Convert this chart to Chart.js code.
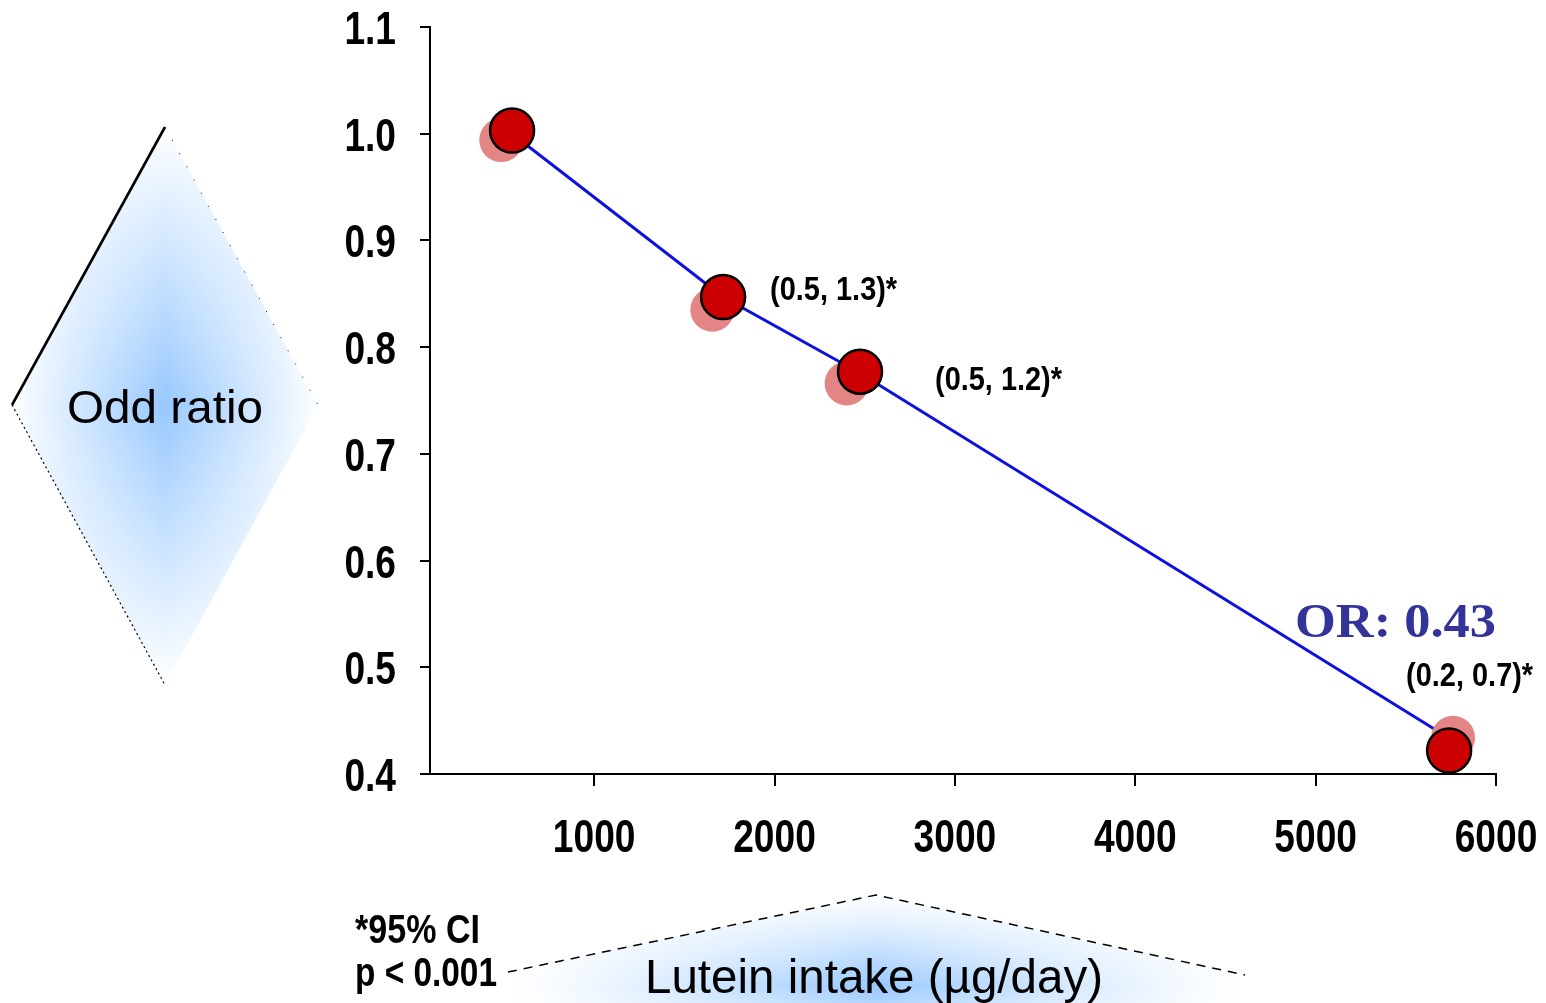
<!DOCTYPE html>
<html>
<head>
<meta charset="utf-8">
<script src="https://cdn.jsdelivr.net/npm/chart.js@4.4.0/dist/chart.umd.min.js"></script>
<style>
  html, body { margin: 0; padding: 0; background: #fff; }
  #wrap { width: 1546px; height: 1003px; }
</style>
</head>
<body>
<div id="wrap"><canvas id="chart" width="1546" height="1003"></canvas></div>
<script>
/* ── data ─────────────────────────────────────────── */
const xTicks   = [1000, 2000, 3000, 4000, 5000, 6000];
const yTicks   = [0.4, 0.5, 0.6, 0.7, 0.8, 0.9, 1.0, 1.1];
const lineX    = [545, 1715, 2470, 5745];          // lutein intake (µg/day)
const lineY    = [1.00, 0.847, 0.776, 0.433];      // odds ratio
const shadowX  = [485, 1655, 2400, 5762];
const shadowY  = [0.994, 0.835, 0.766, 0.434];
const pointX   = [545, 1715, 2474, 5740];
const pointY   = [1.003, 0.847, 0.777, 0.422];
const ciLabels = ['', '(0.5, 1.3)*', '(0.5, 1.2)*', '(0.2, 0.7)*'];

/* ── styles ───────────────────────────────────────── */
const SANS  = "'Liberation Sans', Arial, sans-serif";
const SERIF = "'Liberation Serif', 'Times New Roman', serif";
const RED   = '#cc0000';
const PINK  = '#e38585';
const BLUE  = '#1010e0';
const OR_COLOR = '#333399';
const NARROW = 0.79;   // condensed look of the bold labels

const toXY = (xs, ys) => xs.map((x, i) => ({ x, y: ys[i] }));

/* text squeezed horizontally (by factor, or to a target width) */
function drawText(ctx, txt, x, y, font, align, sx, width) {
  ctx.save();
  ctx.font = font;
  const w = ctx.measureText(txt).width;
  const k = width ? width / w : sx;
  let left = x;
  if (align === 'center') left = x - w * k / 2;
  else if (align === 'right') left = x - w * k;
  ctx.translate(left, y);
  ctx.scale(k, 1);
  ctx.textAlign = 'left';
  ctx.fillText(txt, 0, 0);
  ctx.restore();
}

/* star-shaped soft blue fill, clipped to a path */
function starFill(ctx, cx, cy, w, h, box, pathFn, pw) {
  const off = document.createElement('canvas');
  off.width = box.w; off.height = box.h;
  const octx = off.getContext('2d');
  const img = octx.createImageData(box.w, box.h);
  for (let j = 0; j < box.h; j++) {
    for (let i = 0; i < box.w; i++) {
      const dx = Math.abs(box.x + i - cx) / w;
      const dy = Math.abs(box.y + j - cy) / h;
      let t = Math.max(0, 1 - dx) * Math.max(0, 1 - dy);
      t = Math.pow(t, pw);
      const k = (j * box.w + i) * 4;
      img.data[k] = 152; img.data[k + 1] = 200; img.data[k + 2] = 255;
      img.data[k + 3] = Math.round(255 * t);
    }
  }
  octx.putImageData(img, 0, 0);
  ctx.save();
  ctx.beginPath();
  pathFn(ctx);
  ctx.clip();
  ctx.drawImage(off, box.x, box.y);
  ctx.restore();
}

/* ── decorations: axis-title shapes, notes, tick labels ── */
const decorPlugin = {
  id: 'decor',
  beforeDraw(chart) {
    const ctx = chart.ctx;

    // left diamond ("Odd ratio")
    starFill(ctx, 165, 405, 153, 278, { x: 12, y: 127, w: 307, h: 559 }, c => {
      c.moveTo(12, 405); c.lineTo(165, 127); c.lineTo(318, 405); c.lineTo(165, 685); c.closePath();
    }, 0.95);
    ctx.save();
    ctx.strokeStyle = '#000';
    ctx.lineWidth = 2.6;
    ctx.beginPath(); ctx.moveTo(12, 405); ctx.lineTo(165, 127); ctx.stroke();
    ctx.lineWidth = 1.2;
    ctx.setLineDash([2, 3]);
    ctx.beginPath(); ctx.moveTo(12, 405); ctx.lineTo(165, 685); ctx.stroke();
    ctx.lineWidth = 1;
    ctx.setLineDash([1, 14]);
    ctx.beginPath(); ctx.moveTo(165, 127); ctx.lineTo(318, 405); ctx.stroke();
    ctx.restore();

    // bottom triangle ("Lutein intake")
    starFill(ctx, 876, 985, 370, 95, { x: 505, y: 895, w: 741, h: 108 }, c => {
      c.moveTo(505, 972); c.lineTo(876, 895); c.lineTo(1245, 975);
      c.lineTo(1245, 1003); c.lineTo(505, 1003); c.closePath();
    }, 1.25);
    ctx.save();
    ctx.strokeStyle = '#000';
    ctx.lineWidth = 1.5;
    ctx.setLineDash([9, 7]);
    ctx.beginPath(); ctx.moveTo(508, 972); ctx.lineTo(876, 895); ctx.lineTo(1245, 975); ctx.stroke();
    ctx.restore();

    // titles and notes
    ctx.save();
    ctx.fillStyle = '#000';
    ctx.textBaseline = 'alphabetic';
    drawText(ctx, 'Odd ratio', 165, 423, '46px ' + SANS, 'center', 1, 196);
    drawText(ctx, 'Lutein intake (µg/day)', 874, 993, '49px ' + SANS, 'center', 1, 458);
    drawText(ctx, '*95% CI', 355, 943, 'bold 40px ' + SANS, 'left', 1, 125);
    drawText(ctx, 'p < 0.001', 355, 986, 'bold 40px ' + SANS, 'left', 1, 142);
    ctx.restore();
  },
  afterDraw(chart) {
    const ctx = chart.ctx;
    const xs = chart.scales.x, ys = chart.scales.y;
    ctx.save();
    ctx.fillStyle = '#000';
    ctx.textBaseline = 'alphabetic';
    // axis tick labels
    const tickFont = 'bold 47px ' + SANS;
    xTicks.forEach(v => drawText(ctx, String(v), xs.getPixelForValue(v), 852, tickFont, 'center', NARROW));
    yTicks.forEach(v => drawText(ctx, v.toFixed(1), 396, ys.getPixelForValue(v) + 17, tickFont, 'right', NARROW));
    ctx.restore();
  },
  afterDatasetsDraw(chart) {
    const ctx = chart.ctx;
    const xs = chart.scales.x, ys = chart.scales.y;
    ctx.save();
    ctx.fillStyle = '#000';
    ctx.textBaseline = 'alphabetic';
    // CI labels next to points
    const offs = [null, [47, 3], [75, 18], [-43, -65]];
    ciLabels.forEach((txt, i) => {
      if (!txt) return;
      const px = xs.getPixelForValue(pointX[i]);
      const py = ys.getPixelForValue(pointY[i]);
      drawText(ctx, txt, px + offs[i][0], py + offs[i][1], 'bold 34px ' + SANS, 'left', 1, 127);
    });
    // OR label
    ctx.fillStyle = OR_COLOR;
    drawText(ctx, 'OR: 0.43', 1295, 637, 'bold 48px ' + SERIF, 'left', 1, 201);
    ctx.restore();
  }
};

/* ── chart ─────────────────────────────────────────── */
new Chart(document.getElementById('chart'), {
  type: 'scatter',
  data: {
    datasets: [
      {
        label: 'OR',
        data: toXY(pointX, pointY),
        backgroundColor: RED,
        borderColor: '#000',
        borderWidth: 2.5,
        pointRadius: 22,
        order: 0
      },
      {
        label: 'shadow',
        data: toXY(shadowX, shadowY),
        backgroundColor: PINK,
        borderWidth: 0,
        pointRadius: 22,
        order: 1
      },
      {
        type: 'line',
        label: 'trend',
        data: toXY(lineX, lineY),
        borderColor: BLUE,
        borderWidth: 3,
        pointRadius: 0,
        tension: 0,
        fill: false,
        order: 2
      }
    ]
  },
  options: {
    responsive: false,
    animation: false,
    layout: { padding: { left: 0, right: 50, top: 27, bottom: 0 } },
    plugins: {
      legend: { display: false },
      tooltip: { enabled: false }
    },
    scales: {
      x: {
        type: 'linear',
        min: 90,
        max: 6000,
        afterBuildTicks: s => { s.ticks = xTicks.map(v => ({ value: v })); },
        afterFit: s => { s.height = 229; },
        border: { display: true, color: '#000', width: 2 },
        grid: { drawOnChartArea: false, drawTicks: true, tickLength: 12, color: '#000', lineWidth: 2 },
        ticks: { display: false }
      },
      y: {
        type: 'linear',
        min: 0.4,
        max: 1.1,
        afterBuildTicks: s => { s.ticks = yTicks.map(v => ({ value: v })); },
        afterFit: s => { s.width = 430; },
        border: { display: true, color: '#000', width: 2 },
        grid: { drawOnChartArea: false, drawTicks: true, tickLength: 10, color: '#000', lineWidth: 2 },
        ticks: { display: false }
      }
    }
  },
  plugins: [decorPlugin]
});
</script>
</body>
</html>
